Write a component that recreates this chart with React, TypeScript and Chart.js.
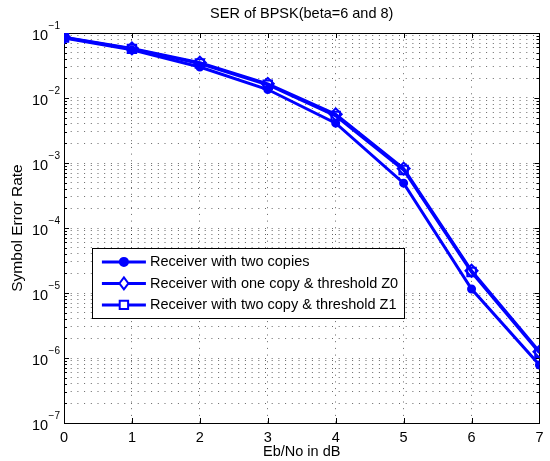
import React, { useEffect, useRef } from 'react';
import { Chart, registerables } from 'chart.js';

Chart.register(...registerables);

const ebNo = [0, 1, 2, 3, 4, 5, 6, 7];
const serTwoCopies = [0.084, 0.055, 0.03, 0.0135, 0.0041, 0.00049, 0.0000115, 0.00000078];
const serOneCopyZ0 = [0.086, 0.058, 0.035, 0.0165, 0.0056, 0.00082, 0.000022, 0.00000125];
const serTwoCopyZ1 = [0.085, 0.057, 0.034, 0.016, 0.0053, 0.00078, 0.000021, 0.0000012];
const seriesLabels = [
  'Receiver with two copies',
  'Receiver with one copy & threshold Z0',
  'Receiver with two copy & threshold Z1',
];
const seriesMarkers = ['circle', 'rectRot', 'rect'];
const chartTitle = 'SER of BPSK(beta=6 and 8)';
const xTitle = 'Eb/No in dB';
const yTitle = 'Symbol Error Rate';
const xTickValues = [0, 1, 2, 3, 4, 5, 6, 7];
const yDecades = [-7, -6, -5, -4, -3, -2, -1];

const FONT = "'Liberation Sans', Arial, Helvetica, sans-serif";
const FS = 14.5;
const BLUE = '#0000ff';

const allLogTicks = (): number[] => {
  const out: number[] = [];
  for (let i = 0; i < yDecades.length; i++) {
    const d = yDecades[i];
    if (i === yDecades.length - 1) {
      out.push(Number(`1e${d}`));
    } else {
      for (let m = 1; m <= 9; m++) out.push(Number(`${m}e${d}`));
    }
  }
  return out;
};
const isDecade = (v: number) => {
  const l = Math.log10(v);
  return Math.abs(l - Math.round(l)) < 1e-9;
};

function drawMarker(ctx: CanvasRenderingContext2D, style: string, x: number, y: number) {
  ctx.beginPath();
  if (style === 'circle') {
    ctx.arc(x, y, 4, 0, Math.PI * 2);
    ctx.fillStyle = BLUE;
    ctx.fill();
    ctx.stroke();
  } else if (style === 'rectRot') {
    ctx.moveTo(x, y - 6);
    ctx.lineTo(x + 4.5, y);
    ctx.lineTo(x, y + 6);
    ctx.lineTo(x - 4.5, y);
    ctx.closePath();
    ctx.fillStyle = '#fff';
    ctx.fill();
    ctx.stroke();
  } else {
    ctx.rect(x - 4.2, y - 4.2, 8.4, 8.4);
    ctx.fillStyle = '#fff';
    ctx.fill();
    ctx.stroke();
  }
}

const framePlugin = {
  id: 'matlabFrame',
  beforeDatasetsDraw(chart: any) {
    const { ctx, chartArea: a, scales } = chart;
    const x = scales.x;
    const y = scales.y;
    ctx.save();
    ctx.strokeStyle = '#000';
    ctx.lineWidth = 1;
    ctx.beginPath();
    xTickValues.forEach((v) => {
      const px = Math.round(x.getPixelForValue(v)) + 0.5;
      ctx.moveTo(px, a.bottom);
      ctx.lineTo(px, a.bottom - 5);
      ctx.moveTo(px, a.top);
      ctx.lineTo(px, a.top + 5);
    });
    allLogTicks().forEach((v) => {
      const py = Math.round(y.getPixelForValue(v)) + 0.5;
      const len = isDecade(v) ? 5 : 3;
      ctx.moveTo(a.left, py);
      ctx.lineTo(a.left + len, py);
      ctx.moveTo(a.right, py);
      ctx.lineTo(a.right - len, py);
    });
    ctx.stroke();
    ctx.strokeRect(Math.round(a.left) + 0.5, Math.round(a.top) + 0.5, Math.round(a.width), Math.round(a.height));
    ctx.fillStyle = '#000';
    ctx.textAlign = 'left';
    ctx.textBaseline = 'alphabetic';
    yDecades.forEach((d) => {
      const py = y.getPixelForValue(Number(`1e${d}`));
      const exp = '\u2212' + String(Math.abs(d));
      ctx.font = `10px ${FONT}`;
      const we = ctx.measureText(exp).width;
      ctx.font = `${FS}px ${FONT}`;
      const wb = ctx.measureText('10').width;
      const right = a.left - 4;
      ctx.fillText('10', right - we - wb - 0.5, py + 6.5);
      ctx.font = `10px ${FONT}`;
      ctx.fillText(exp, right - we, py - 4);
    });
    ctx.restore();
  },
  afterDatasetsDraw(chart: any) {
    const { ctx, chartArea: a } = chart;
    const left = a.left + a.width * 0.0587;
    const top = a.top + a.height * 0.551;
    const w = 312;
    const h = 70;
    ctx.save();
    ctx.fillStyle = '#fff';
    ctx.fillRect(left, top, w, h);
    ctx.strokeStyle = '#000';
    ctx.lineWidth = 1;
    ctx.strokeRect(Math.round(left) + 0.5, Math.round(top) + 0.5, w, h);
    ctx.font = `${FS}px ${FONT}`;
    ctx.textBaseline = 'middle';
    ctx.textAlign = 'left';
    seriesLabels.forEach((lab, i) => {
      const cy = top + 14 + i * 21.5;
      ctx.strokeStyle = BLUE;
      ctx.lineWidth = 3;
      ctx.beginPath();
      ctx.moveTo(left + 10, cy);
      ctx.lineTo(left + 54, cy);
      ctx.stroke();
      ctx.lineWidth = 2;
      drawMarker(ctx, seriesMarkers[i], left + 32, cy);
      ctx.fillStyle = '#000';
      ctx.fillText(lab, left + 58, cy + 0.5);
    });
    ctx.restore();
  },
};

export default function App() {
  const ref = useRef<HTMLCanvasElement>(null);
  useEffect(() => {
    if (!ref.current) return;
    const mk = (label: string, data: number[], style: string, radius: number, filled: boolean) => ({
      label,
      data: ebNo.map((x, i) => ({ x, y: data[i] })),
      borderColor: BLUE,
      backgroundColor: BLUE,
      borderWidth: 3,
      pointStyle: style,
      pointRadius: radius,
      pointBorderWidth: 2,
      pointBorderColor: BLUE,
      pointBackgroundColor: filled ? BLUE : 'rgba(255,255,255,0)',
      tension: 0,
    });
    const chart = new Chart(ref.current, {
      type: 'line',
      data: {
        datasets: [
          mk(seriesLabels[0], serTwoCopies, seriesMarkers[0], 3.5, true),
          mk(seriesLabels[1], serOneCopyZ0, seriesMarkers[1], 6, false),
          mk(seriesLabels[2], serTwoCopyZ1, seriesMarkers[2], 6, false),
        ],
      },
      options: {
        responsive: false,
        animation: false,
        layout: { padding: { left: 0, right: 9, top: 0, bottom: 0 } },
        plugins: {
          legend: { display: false },
          tooltip: { enabled: false },
          title: {
            display: true,
            text: chartTitle,
            fullSize: false,
            color: '#000',
            font: { family: FONT, size: FS, weight: 'normal' },
            padding: { top: 5.3, bottom: 10.3 },
          },
        },
        scales: {
          x: {
            type: 'linear',
            min: 0,
            max: 7,
            afterBuildTicks: (s: any) => {
              s.ticks = xTickValues.map((v) => ({ value: v }));
            },
            afterFit: (s: any) => {
              s.height = 38;
            },
            ticks: {
              color: '#000',
              font: { family: FONT, size: FS },
              padding: 6.5,
              maxRotation: 0,
              autoSkip: false,
              callback: (v: any) => String(v),
            },
            grid: { color: 'rgba(0,0,0,0.6)', lineWidth: 1, drawTicks: false },
            border: { display: false, dash: [1, 5.7] },
            title: {
              display: true,
              text: xTitle,
              color: '#000',
              font: { family: FONT, size: FS },
              padding: { top: 0, bottom: 0 },
            },
          },
          y: {
            type: 'logarithmic',
            min: 1e-7,
            max: 1e-1,
            afterBuildTicks: (s: any) => {
              s.ticks = allLogTicks().map((v) => ({ value: v, major: isDecade(v) }));
            },
            afterFit: (s: any) => {
              s.width = 64;
            },
            ticks: {
              display: false,
              autoSkip: false,
            },
            grid: { color: 'rgba(0,0,0,0.6)', lineWidth: 1, drawTicks: false },
            border: { display: false, dash: [1, 5.7] },
            title: {
              display: true,
              text: yTitle,
              color: '#000',
              font: { family: FONT, size: 15.5 },
              padding: { top: 8.7, bottom: 0 },
            },
          },
        },
      } as any,
      plugins: [framePlugin],
    });
    return () => chart.destroy();
  }, []);
  return (
    <div style={{ position: 'fixed', left: 0, top: 0, width: 550, height: 461, background: '#fff' }}>
      <canvas ref={ref} width={550} height={461} />
    </div>
  );
}
